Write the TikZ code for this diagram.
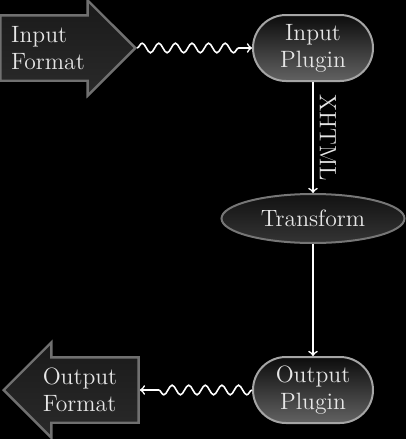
\documentclass[tikz,border=0pt]{standalone}
\usetikzlibrary{shapes.misc,shapes.geometric,shapes.arrows,decorations.pathmorphing,arrows}

\begin{document}
\begin{tikzpicture}[x=0.5pt,y=0.5pt,yscale=-1,xscale=1,
  font=\fontsize{11.8}{13.5}\selectfont,
  every node/.style={text={rgb, 255:red, 230; green, 230; blue, 230 }},
  plugin/.style={rounded rectangle, minimum width=60pt, minimum height=33pt, inner sep=0pt, align=center,
    draw={rgb, 255:red, 165; green, 165; blue, 165 }, line width=1pt,
    top color={rgb, 255:red, 12; green, 12; blue, 12 }, bottom color={rgb, 255:red, 98; green, 98; blue, 98 }},
  fmtarrow/.style={single arrow, single arrow head extend=7.5pt, inner xsep=0pt, inner ysep=15.75pt,
    minimum height=67.5pt, minimum width=46.5pt,
    draw={rgb, 255:red, 112; green, 112; blue, 112 }, line width=1.2pt,
    top color={rgb, 255:red, 26; green, 26; blue, 26 }, bottom color={rgb, 255:red, 42; green, 42; blue, 42 }},
  fmttext/.style={align=left, inner sep=0pt},
  wavy/.style={draw=white, line width=0.8pt, -to, decorate,
    decoration={snake, segment length=8.3pt, amplitude=2.4pt, post length=6pt}},
  flow/.style={draw=white, line width=0.8pt, -to}]
%uncomment if require: \path (0,439); %set diagram left start at 0, and has height of 439
\fill[black] (0,0) rectangle (406,439);
\useasboundingbox (0,0) rectangle (406,439);

%Shape: Single Arrow [id:input format]
\node[fmtarrow, anchor=tip] (infmt) at (137,48) {};
\node[fmttext] (intxt) at (48,48) {Input\\Format};
%Shape: Rounded Rectangle [id:input plugin]
\node[plugin] (inplug) at (313,48) {Input\\Plugin};
%Shape: Ellipse [id:transform]
\node[ellipse, minimum width=91.5pt, minimum height=24.5pt, inner sep=0pt,
  draw={rgb, 255:red, 118; green, 118; blue, 118 }, line width=1pt,
  top color={rgb, 255:red, 18; green, 18; blue, 18 }, bottom color={rgb, 255:red, 52; green, 52; blue, 52 }] (trans) at (313,218.5) {Transform};
%Shape: Rounded Rectangle [id:output plugin]
\node[plugin] (outplug) at (313,390) {Output\\Plugin};
%Shape: Single Arrow [id:output format]
\node[fmtarrow, shape border rotate=180, anchor=tip] (outfmt) at (2,390) {};
\node[fmttext] (outtxt) at (80,390) {Output\\Format};

%Curve Lines [id:waves]
\draw[wavy] (infmt.tip) -- (inplug.west);
\draw[wavy] (outplug.west) -- (outfmt.tail);
%Straight Lines [id:flow]
\draw[flow] (inplug.south) -- node[midway, rotate=-90, anchor=south, inner sep=3pt] {XHTML} (trans.north);
\draw[flow] (trans.south) -- (outplug.north);

\end{tikzpicture}
\end{document}
